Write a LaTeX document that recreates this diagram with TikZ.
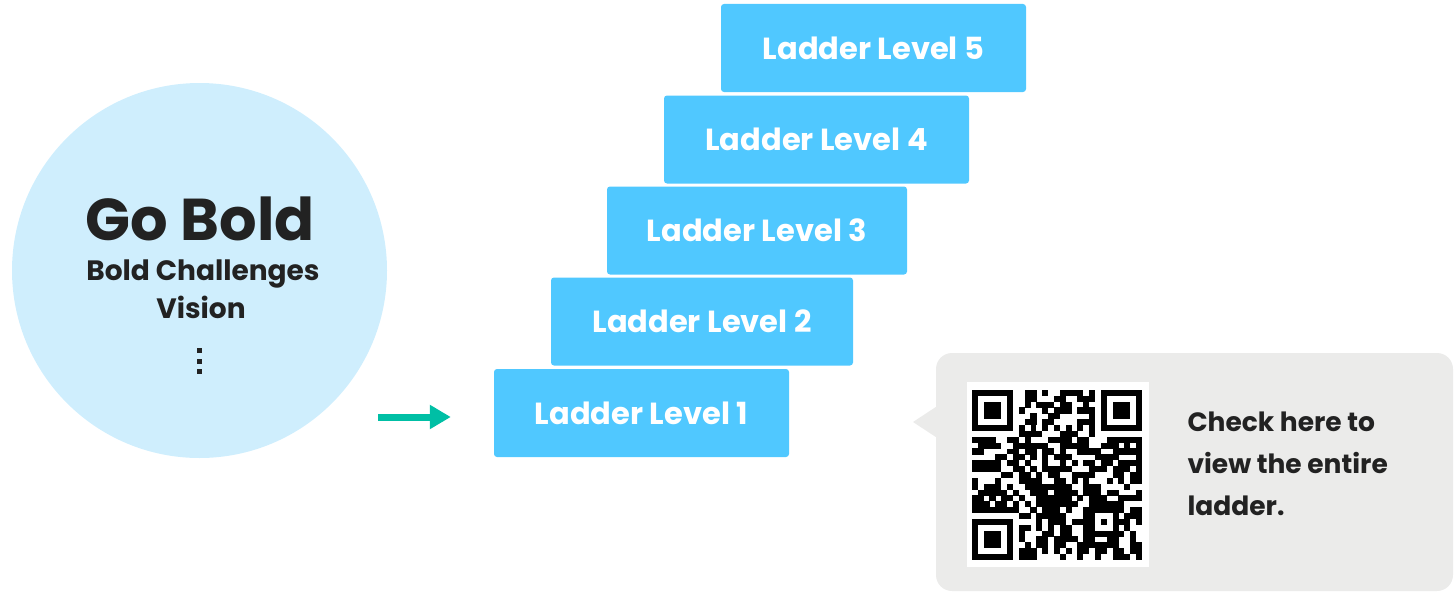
\documentclass[tikz,border=0pt]{standalone}
\usepackage{fontspec}
\setmainfont{Poppins}
\usetikzlibrary{arrows.meta}
\definecolor{RungBlue}{HTML}{50C8FF}
\definecolor{GoalBlue}{HTML}{CFEEFD}
\definecolor{InkDark}{HTML}{222222}
\definecolor{FlowTeal}{HTML}{00BFA5}
\definecolor{PanelGray}{HTML}{EBEBEA}

\begin{document}
\begin{tikzpicture}[
    x=1pt, y=-1pt,
    every node/.style={align=center, text=InkDark},
    rung/.style={fill=RungBlue, rounded corners=3pt, minimum height=88pt, inner sep=0pt, text=white, font=\bfseries\fontsize{30.5}{34}\selectfont},
    arrow/.style={FlowTeal, line width=7pt, -{Triangle[length=21pt, width=23pt]}}
  ]
  \useasboundingbox (0,0) rectangle (1456,594);

  % Goal circle
  \node[circle, fill=GoalBlue, minimum size=375pt, inner sep=0pt] (goal) at (199.5,270.5) {};
  \node[anchor=base, font=\bfseries\fontsize{59}{64}\selectfont] (gotitle) at (200,240) {Go Bold};
  \node[anchor=base, font=\bfseries\fontsize{28}{32}\selectfont] (gosub1) at (203,280) {Bold Challenges};
  \node[anchor=base, font=\bfseries\fontsize{28}{32}\selectfont] (gosub2) at (201,318) {Vision};
  \foreach \dy in {348,358.5,369}
    \fill[InkDark] (196.5,\dy) rectangle +(5,5);

  % Ladder levels
  \node[rung, minimum width=295pt] (lvl1) at (641.5,413) {Ladder Level 1};
  \node[rung, minimum width=302pt] (lvl2) at (702,321.5) {Ladder Level 2};
  \node[rung, minimum width=300pt] (lvl3) at (757,230.5) {Ladder Level 3};
  \node[rung, minimum width=305pt] (lvl4) at (816.5,139.5) {Ladder Level 4};
  \node[rung, minimum width=305pt] (lvl5) at (873.5,48) {Ladder Level 5};

  % Arrow into the ladder
  \coordinate (flowstart) at (378,417);
  \draw[arrow, shorten >=43pt] (flowstart) -- (flowstart -| lvl1.west);

  % QR panel
  \node[fill=PanelGray, rounded corners=16pt, minimum width=517pt, minimum height=238pt, inner sep=0pt] (panel) at (1194.5,472) {};
  \coordinate (tip) at (913,422);
  \fill[PanelGray] ([yshift=-15pt]panel.west |- tip) -- (tip) -- ([yshift=15pt]panel.west |- tip) -- cycle;
  \node[fill=white, minimum width=182pt, minimum height=185pt, inner sep=0pt] (qr) at (1057.5,474.5) {};
  \begin{scope}[shift={(972,390)}, x=5.86pt, y=-5.86pt]
    \pgfmathsetseed{31337}
    \foreach \i in {0,...,28}{
      \foreach \j in {0,...,28}{
        \pgfmathrandominteger{\bit}{0}{4}
        \ifnum\bit>1 \fill[black] (\i-0.02,\j-0.02) rectangle +(1.04,1.04); \fi
      }
    }
    \fill[white] (0,0) rectangle (8,8);
    \fill[white] (21,0) rectangle (29,8);
    \fill[white] (0,21) rectangle (8,29);
    \foreach \ox/\oy in {0/0,22/0,0/22}{
      \fill[black] (\ox,\oy) rectangle +(7,7);
      \fill[white] (\ox+1,\oy+1) rectangle +(5,5);
      \fill[black] (\ox+2,\oy+2) rectangle +(3,3);
    }
    \fill[black] (20,20) rectangle (25,25);
    \fill[white] (21,21) rectangle (24,24);
    \fill[black] (22,22) rectangle (23,23);
    \fill[white] (8,6) rectangle (21,7);
    \fill[white] (6,8) rectangle (7,21);
    \foreach \k in {8,10,...,20}{
      \fill[black] (\k,6) rectangle +(1,1);
      \fill[black] (6,\k) rectangle +(1,1);
    }
  \end{scope}
  \node[anchor=base west, align=left, font=\bfseries\fontsize{26.5}{42}\selectfont] (qrnote) at (1184,515) {Check here to\\view the entire\\ladder.};
\end{tikzpicture}
\end{document}
